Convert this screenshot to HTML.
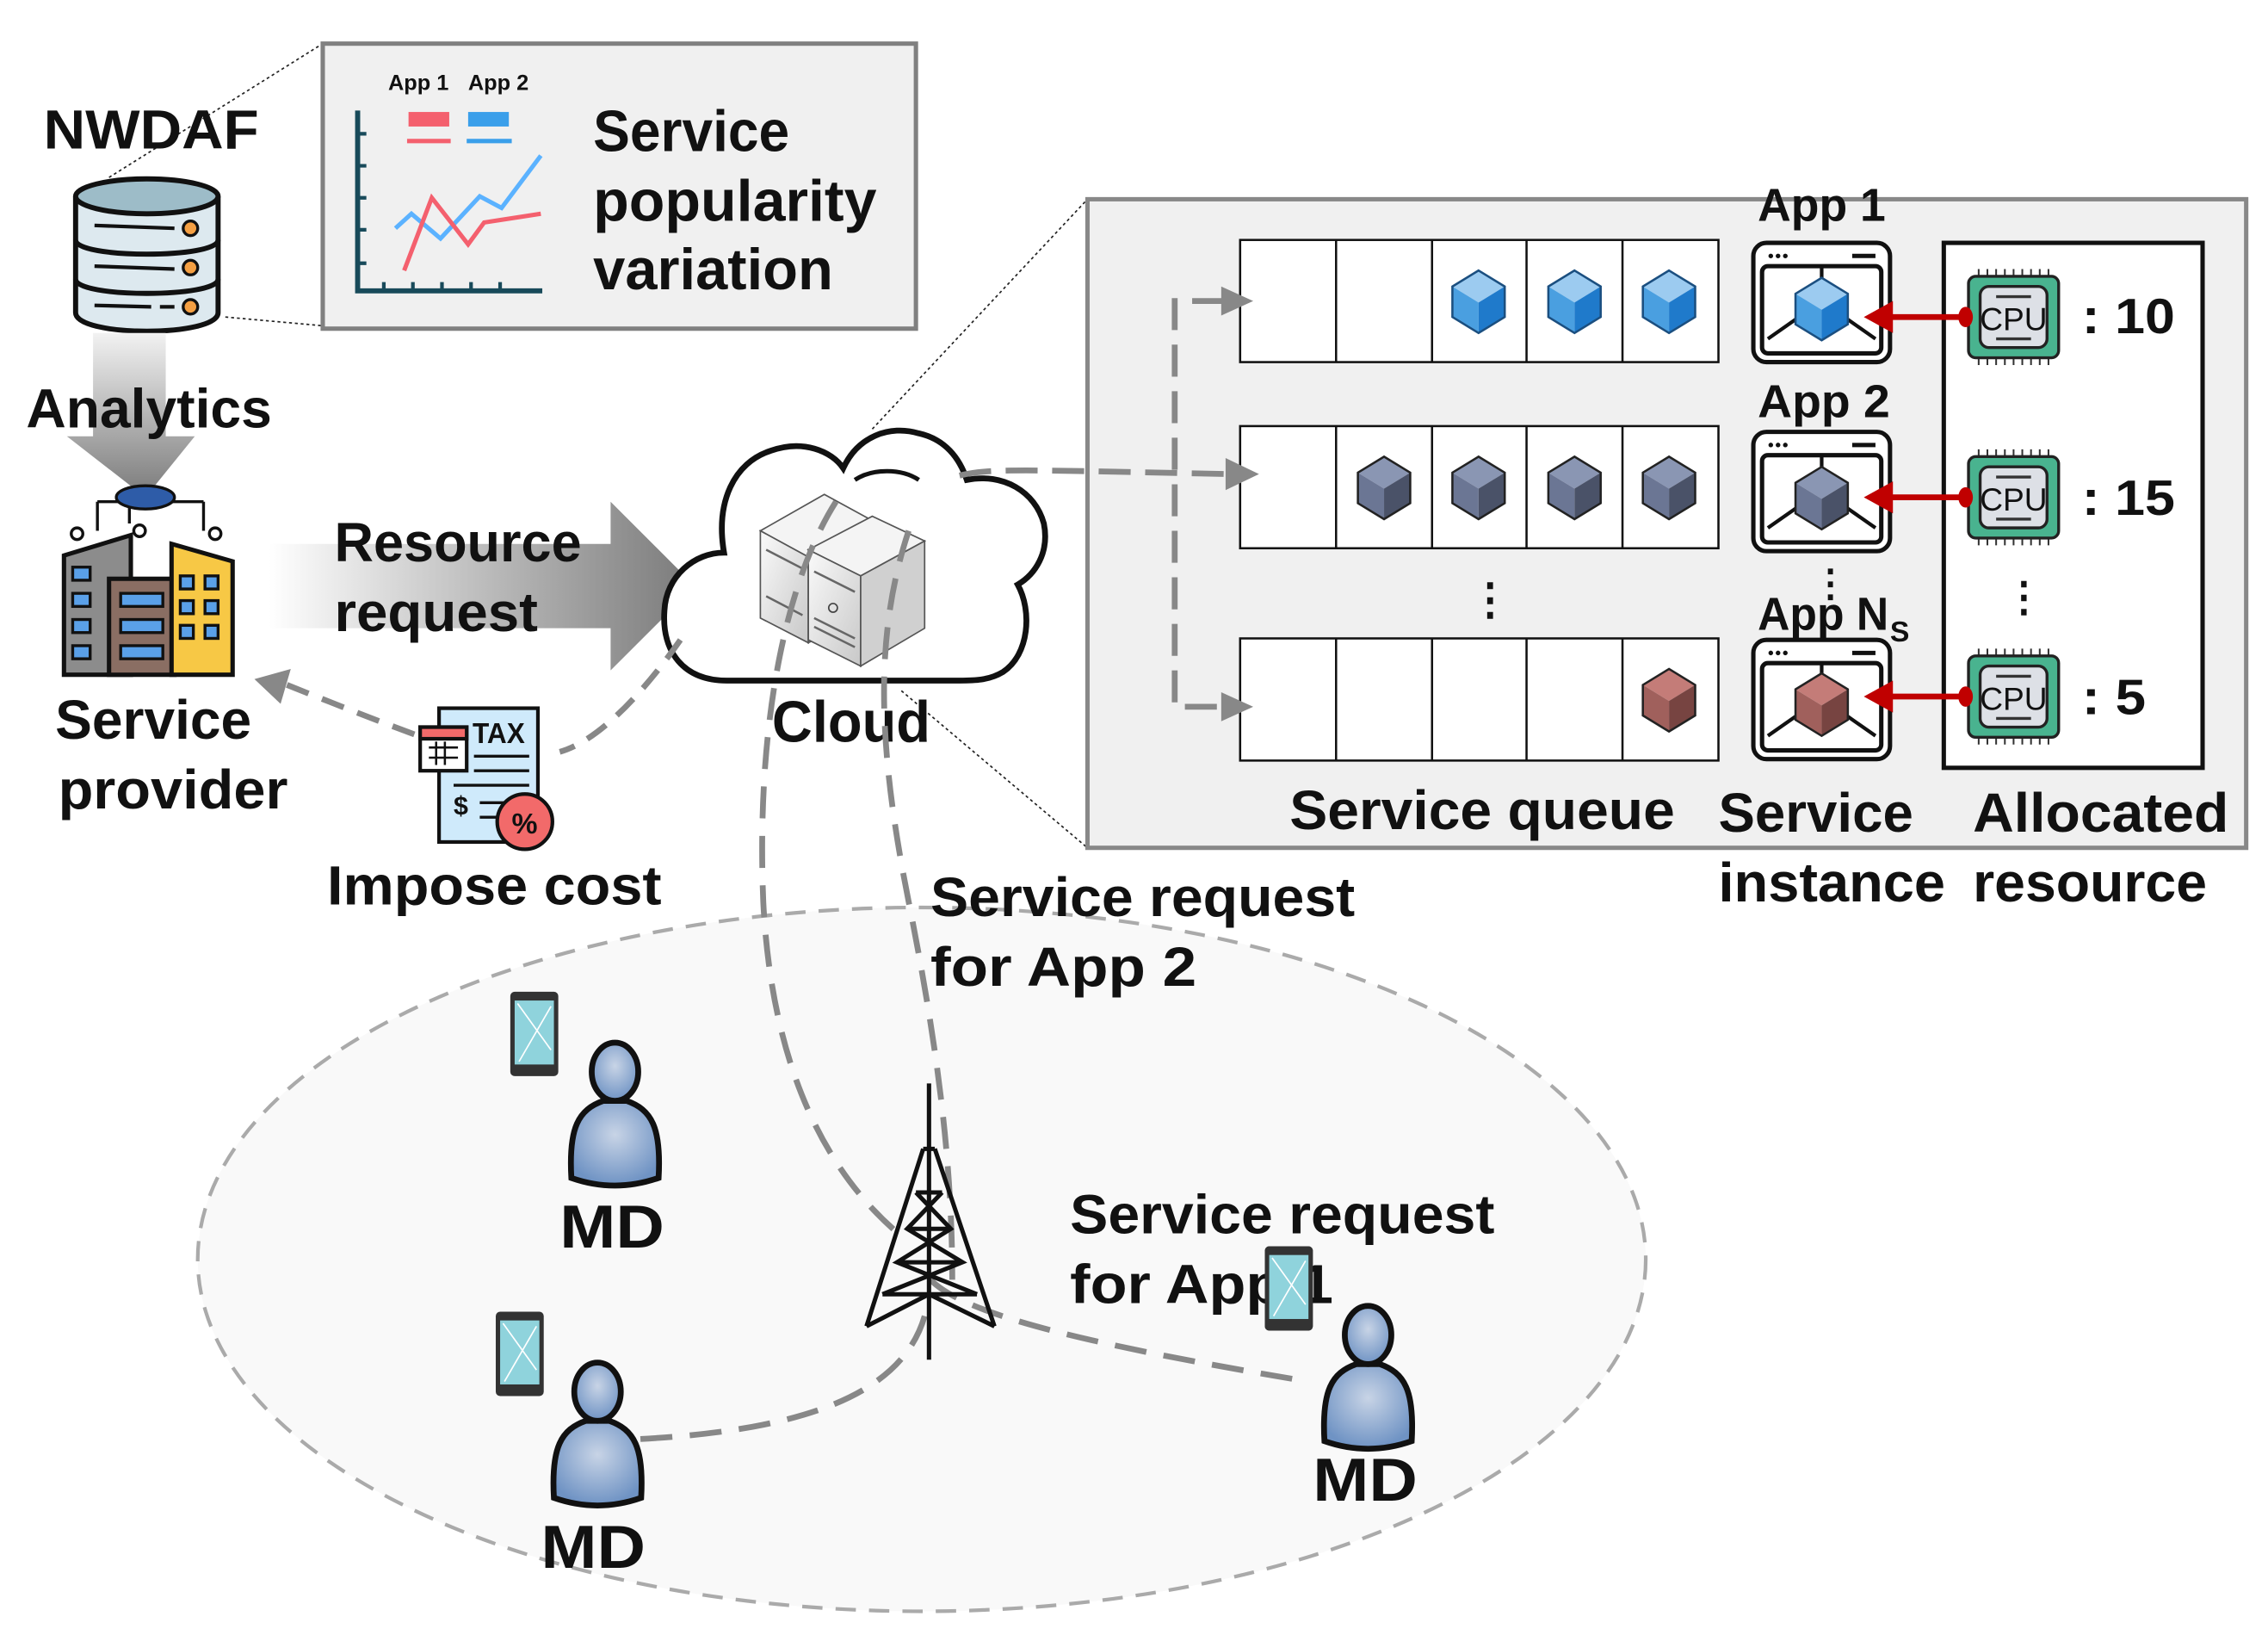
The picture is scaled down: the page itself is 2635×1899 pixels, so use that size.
<!DOCTYPE html>
<html><head><meta charset="utf-8"><style>
html,body{margin:0;padding:0;background:#fff;}
svg{display:block;}
text{font-family:"Liberation Sans",sans-serif;font-weight:bold;fill:#111;}
</style></head><body>
<svg width="2635" height="1899" viewBox="0 0 1560 1124.3" preserveAspectRatio="none" xmlns="http://www.w3.org/2000/svg">
<defs>
<linearGradient id="gd" x1="0" y1="0" x2="0" y2="1"><stop offset="0" stop-color="#f2f2f2"/><stop offset="1" stop-color="#7a7a7a"/></linearGradient>
<linearGradient id="gr" x1="0" y1="0" x2="1" y2="0"><stop offset="0" stop-color="#ffffff"/><stop offset="1" stop-color="#7a7a7a"/></linearGradient>
<radialGradient id="gu" cx="0.5" cy="0.4" r="0.6"><stop offset="0" stop-color="#c8d4e6"/><stop offset="1" stop-color="#6f93c4"/></radialGradient>
<linearGradient id="gs" x1="0" y1="0" x2="1" y2="1"><stop offset="0" stop-color="#fafafa"/><stop offset="1" stop-color="#c8c8c8"/></linearGradient>
<g id="cubeB"><polygon points="0,-21 18,-10 0,1 -18,-10" fill="#9ccbf0"/><polygon points="-18,-10 0,1 0,22 -18,11" fill="#4a9fe0"/><polygon points="18,-10 0,1 0,22 18,11" fill="#1f7acb"/><polygon points="0,-21 18,-10 18,11 0,22 -18,11 -18,-10" fill="none" stroke="#1b4f80" stroke-width="1.5"/></g>
<g id="cubeG"><polygon points="0,-21 18,-10 0,1 -18,-10" fill="#8a96b3"/><polygon points="-18,-10 0,1 0,22 -18,11" fill="#6b7694"/><polygon points="18,-10 0,1 0,22 18,11" fill="#4a5268"/><polygon points="0,-21 18,-10 18,11 0,22 -18,11 -18,-10" fill="none" stroke="#222" stroke-width="1.5"/></g>
<g id="cubeR"><polygon points="0,-21 18,-10 0,1 -18,-10" fill="#c47c78"/><polygon points="-18,-10 0,1 0,22 -18,11" fill="#a0605c"/><polygon points="18,-10 0,1 0,22 18,11" fill="#774441"/><polygon points="0,-21 18,-10 18,11 0,22 -18,11 -18,-10" fill="none" stroke="#222" stroke-width="1.5"/></g>
<g id="inst"><rect x="0" y="0" width="94" height="82" rx="9" fill="#fff" stroke="#111" stroke-width="3"/><rect x="6" y="16" width="82" height="60" rx="4" fill="#fff" stroke="#111" stroke-width="3"/><circle cx="12" cy="9" r="1.6" fill="#111"/><circle cx="17" cy="9" r="1.6" fill="#111"/><circle cx="22" cy="9" r="1.6" fill="#111"/><line x1="68" y1="9" x2="84" y2="9" stroke="#111" stroke-width="3"/><line x1="47" y1="16" x2="47" y2="30" stroke="#111" stroke-width="2.5"/><line x1="10" y1="66" x2="30" y2="52" stroke="#111" stroke-width="2.5"/><line x1="84" y1="66" x2="64" y2="52" stroke="#111" stroke-width="2.5"/></g>
<g id="cpu"><g stroke="#333" stroke-width="1.2"><path d="M-24,-33v6M-18,-33v6M-12,-33v6M-6,-33v6M0,-33v6M6,-33v6M12,-33v6M18,-33v6M24,-33v6M-24,27v6M-18,27v6M-12,27v6M-6,27v6M0,27v6M6,27v6M12,27v6M18,27v6M24,27v6"/></g><rect x="-31" y="-28" width="62" height="56" rx="5" fill="#49b38f" stroke="#222" stroke-width="2"/><rect x="-23" y="-21" width="46" height="42" rx="6" fill="#dde0e6" stroke="#222" stroke-width="2"/><text x="0" y="9" font-size="22" text-anchor="middle" style="font-weight:normal" fill="#333">CPU</text><line x1="-12" y1="-14" x2="12" y2="-14" stroke="#333" stroke-width="2"/><line x1="-12" y1="15" x2="12" y2="15" stroke="#333" stroke-width="2"/></g>
<g id="user"><path d="M-30,45 C-32,10 -25,-2 -8,-8 L8,-8 C25,-2 32,10 30,45 C10,52 -10,52 -30,45Z" fill="url(#gu)" stroke="#111" stroke-width="4"/><ellipse cx="0" cy="-28" rx="16" ry="20" fill="url(#gu)" stroke="#111" stroke-width="4"/></g>
<g id="phone"><rect x="0" y="0" width="33" height="58" rx="3" fill="#333"/><rect x="3" y="6" width="27" height="44" fill="#8fd3dc"/><path d="M5,8 L28,40 M28,10 L6,48" stroke="#fff" stroke-width="1"/></g>
</defs>

<!-- popularity box + dotted lines -->
<line x1="75" y1="122" x2="222" y2="30" stroke="#222" stroke-width="1" stroke-dasharray="2,2"/>
<line x1="155" y1="218" x2="222" y2="224" stroke="#222" stroke-width="1" stroke-dasharray="2,2"/>
<rect x="222" y="30" width="408" height="196" fill="#f0f0f0" stroke="#808080" stroke-width="3"/>
<text x="267" y="62" font-size="15">App 1</text><text x="322" y="62" font-size="15">App 2</text>
<rect x="281" y="77" width="28" height="10" fill="#f4606e"/><line x1="280" y1="97" x2="310" y2="97" stroke="#f4606e" stroke-width="3"/>
<rect x="322" y="77" width="28" height="10" fill="#3a9fea"/><line x1="321" y1="97" x2="352" y2="97" stroke="#3a9fea" stroke-width="3"/>
<path d="M246,76 L246,200 L373,200" fill="none" stroke="#184a5a" stroke-width="3.5"/>
<path d="M246,92h6M246,114h6M246,136h6M246,158h6M246,181h6M264,200v-6M284,200v-6M304,200v-6M324,200v-6M344,200v-6" stroke="#184a5a" stroke-width="2.5"/>
<polyline points="272,157 283,147 303,164 330,135 345,143 372,107" fill="none" stroke="#5bb2ff" stroke-width="3"/>
<polyline points="278,186 297,136 322,168 333,153 372,147" fill="none" stroke="#f4606e" stroke-width="3"/>
<text x="408" y="104" font-size="40" textLength="135" lengthAdjust="spacingAndGlyphs">Service</text>
<text x="408" y="152" font-size="40" textLength="195" lengthAdjust="spacingAndGlyphs">popularity</text>
<text x="408" y="199" font-size="40" textLength="165" lengthAdjust="spacingAndGlyphs">variation</text>

<text x="30" y="102" font-size="38" textLength="148" lengthAdjust="spacingAndGlyphs">NWDAF</text>
<!-- database -->
<g stroke="#111" stroke-width="3.5">
<path d="M52,135 L52,215 C52,232 150,232 150,215 L150,135" fill="#dde9ef"/>
<ellipse cx="101" cy="135" rx="49" ry="12" fill="#9dbcc8"/>
<path d="M52,165 C52,178 150,178 150,165 M52,192 C52,205 150,205 150,192" fill="none"/>
<path d="M65,155 L120,157 M65,183 L120,185 M65,210 L104,211 M110,211 L120,211" fill="none" stroke-width="2.5"/>
<circle cx="131" cy="157" r="5" fill="#f5a043" stroke-width="2"/><circle cx="131" cy="184" r="5" fill="#f5a043" stroke-width="2"/><circle cx="131" cy="211" r="5" fill="#f5a043" stroke-width="2"/>
</g>
<!-- analytics arrow -->
<polygon points="64,229 114,229 114,300 134,300 100,342 46,300 64,300" fill="url(#gd)"/>
<text x="18" y="294" font-size="38" textLength="169" lengthAdjust="spacingAndGlyphs">Analytics</text>
<!-- building -->
<g stroke="#111" stroke-width="3">
<path d="M67,345 L140,345 M89,345 v15 M67,345 v20 M140,345 v20" fill="none" stroke-width="2"/>
<ellipse cx="100" cy="342" rx="20" ry="8" fill="#2e5ca8" stroke-width="2"/>
<circle cx="53" cy="367" r="4" fill="#fff" stroke-width="2"/><circle cx="96" cy="365" r="4" fill="#fff" stroke-width="2"/><circle cx="148" cy="367" r="4" fill="#fff" stroke-width="2"/>
<polygon points="44,382 90,368 90,464 44,464" fill="#8c8c8c"/>
<rect x="75" y="398" width="45" height="66" fill="#8a6e63"/>
<polygon points="118,374 160,386 160,464 118,464" fill="#f7c845"/>
<g fill="#5aa0e8" stroke-width="2"><rect x="50" y="390" width="12" height="9"/><rect x="50" y="408" width="12" height="9"/><rect x="50" y="426" width="12" height="9"/><rect x="50" y="444" width="12" height="9"/><rect x="83" y="408" width="29" height="9"/><rect x="83" y="426" width="29" height="9"/><rect x="83" y="444" width="29" height="9"/><rect x="124" y="396" width="9" height="9"/><rect x="141" y="396" width="9" height="9"/><rect x="124" y="413" width="9" height="9"/><rect x="141" y="413" width="9" height="9"/><rect x="124" y="430" width="9" height="9"/><rect x="141" y="430" width="9" height="9"/></g>
</g>
<text x="38" y="508" font-size="38" textLength="135" lengthAdjust="spacingAndGlyphs">Service</text>
<text x="40" y="556" font-size="38" textLength="158" lengthAdjust="spacingAndGlyphs">provider</text>

<!-- resource request arrow -->
<polygon points="185,374 420,374 420,345 478,403 420,461 420,432 185,432" fill="url(#gr)"/>
<text x="230" y="386" font-size="38" textLength="170" lengthAdjust="spacingAndGlyphs">Resource</text>
<text x="230" y="434" font-size="38" textLength="140" lengthAdjust="spacingAndGlyphs">request</text>

<!-- dotted to detail box -->
<line x1="600" y1="295" x2="748" y2="137" stroke="#222" stroke-width="1" stroke-dasharray="2,2"/>
<line x1="620" y1="475" x2="748" y2="583" stroke="#222" stroke-width="1" stroke-dasharray="2,2"/>

<!-- cloud -->
<path d="M500,468 C470,468 455,448 457,420 C458,396 478,380 498,380 C492,345 505,318 530,310 C552,302 572,310 580,322 C590,300 612,292 632,298 C650,302 660,315 665,330 C690,325 712,338 718,360 C722,380 712,395 700,402 C710,420 708,450 690,462 C680,468 670,468 660,468 Z" fill="#fff" stroke="#111" stroke-width="4"/>
<path d="M588,330 C600,322 620,322 632,330" fill="none" stroke="#111" stroke-width="3"/>
<!-- servers -->
<polygon points="523,365 567,340 600,358 556,383" fill="#f4f4f4" stroke="#555" stroke-width="1"/>
<polygon points="523,365 556,383 556,442 523,425" fill="url(#gs)" stroke="#555" stroke-width="1"/>
<polygon points="556,383 600,358 600,420 556,442" fill="#d8d8d8" stroke="#555" stroke-width="1"/>
<polygon points="556,378 600,355 636,372 592,396" fill="#f4f4f4" stroke="#555" stroke-width="1"/>
<polygon points="556,378 592,396 592,458 556,440" fill="url(#gs)" stroke="#555" stroke-width="1"/>
<polygon points="592,396 636,372 636,432 592,458" fill="#d0d0d0" stroke="#555" stroke-width="1"/>
<path d="M560,393 l28,14 M560,425 l28,14 M560,431 l28,14 M527,378 l25,13 M527,410 l25,13" stroke="#666" stroke-width="1.5"/>
<circle cx="573" cy="418" r="3" fill="none" stroke="#444"/>
<text x="531" y="510" font-size="40" textLength="109" lengthAdjust="spacingAndGlyphs">Cloud</text>

<!-- dashed cost arrow -->
<path d="M468,440 C440,480 410,510 385,517" fill="none" stroke="#888" stroke-width="4" stroke-dasharray="16,10"/>
<path d="M285,505 C250,492 220,480 195,470" fill="none" stroke="#888" stroke-width="4" stroke-dasharray="16,10"/>
<polygon points="175,467 200,460 193,484" fill="#888"/>
<!-- tax icon -->
<g stroke="#111" stroke-width="2.5">
<rect x="302" y="487" width="68" height="92" fill="#cfeafb"/>
<rect x="289" y="500" width="32" height="30" fill="#fff"/><rect x="289" y="500" width="32" height="8" fill="#f26a6a"/>
<path d="M295,514h20M295,521h20M300,510v16M306,510v16" stroke-width="1.5"/>
<path d="M326,520h38M326,530h38M312,540h52M330,552h20M330,562h20" stroke-width="2"/>
<circle cx="361" cy="565" r="19" fill="#f26a6a"/>
</g>
<text x="325" y="511" font-size="20" textLength="36" lengthAdjust="spacingAndGlyphs">TAX</text>
<text x="312" y="560" font-size="18">$</text>
<text x="352" y="573" font-size="20">%</text>
<text x="225" y="622" font-size="38" textLength="230" lengthAdjust="spacingAndGlyphs">Impose cost</text>

<!-- ellipse -->
<ellipse cx="634" cy="866" rx="498" ry="242" fill="#f9f9f9" stroke="#aaa" stroke-width="2.5" stroke-dasharray="14,9"/>

<!-- big gray detail box -->
<rect x="748" y="137" width="797" height="446" fill="#f0f0f0" stroke="#888" stroke-width="3"/>
<g fill="#fff" stroke="#111" stroke-width="1.5">
<rect x="853" y="165" width="329" height="84"/><rect x="853" y="293" width="329" height="84"/><rect x="853" y="439" width="329" height="84"/>
</g>
<path d="M919,165v84M985,165v84M1050,165v84M1116,165v84M919,293v84M985,293v84M1050,293v84M1116,293v84M919,439v84M985,439v84M1050,439v84M1116,439v84" stroke="#111" stroke-width="1.5"/>
<use href="#cubeB" x="1017" y="207"/><use href="#cubeB" x="1083" y="207"/><use href="#cubeB" x="1148" y="207"/>
<use href="#cubeG" x="952" y="335"/><use href="#cubeG" x="1017" y="335"/><use href="#cubeG" x="1083" y="335"/><use href="#cubeG" x="1148" y="335"/>
<use href="#cubeR" x="1148" y="481"/>
<text x="1010" y="422" font-size="30">⋮</text>

<!-- dashed connectors into queues -->
<path d="M842,207 L808,207 L808,486 L842,486" fill="none" stroke="#888" stroke-width="4" stroke-dasharray="22,10"/>
<polygon points="840,197 862,207 840,217" fill="#888"/><polygon points="840,476 862,486 840,496" fill="#888"/>
<path d="M660,327 C680,322 700,323 845,326" fill="none" stroke="#888" stroke-width="4" stroke-dasharray="22,10"/>
<polygon points="843,315 866,326 843,337" fill="#888"/>

<!-- instances -->
<use href="#inst" x="1206" y="167"/><use href="#inst" x="1206" y="297"/><use href="#inst" x="1206" y="440"/>
<use href="#cubeB" x="1253" y="212"/><use href="#cubeG" x="1253" y="342"/><use href="#cubeR" x="1253" y="484"/>
<text x="1209" y="152" font-size="32" textLength="88" lengthAdjust="spacingAndGlyphs">App 1</text>
<text x="1209" y="287" font-size="32" textLength="91" lengthAdjust="spacingAndGlyphs">App 2</text>
<text x="1209" y="433" font-size="32" textLength="90" lengthAdjust="spacingAndGlyphs">App N</text><text x="1300" y="441" font-size="20">S</text>
<text x="1246" y="410" font-size="26">⋮</text>

<!-- allocated resource -->
<rect x="1337" y="167" width="178" height="361" fill="#fff" stroke="#111" stroke-width="3"/>
<use href="#cpu" x="1385" y="218"/><use href="#cpu" x="1385" y="342"/><use href="#cpu" x="1385" y="479"/>
<g stroke="#c00000" stroke-width="4"><line x1="1300" y1="218" x2="1352" y2="218"/><line x1="1300" y1="342" x2="1352" y2="342"/><line x1="1300" y1="479" x2="1352" y2="479"/></g>
<g fill="#c00000"><polygon points="1282,218 1302,207 1302,229"/><polygon points="1282,342 1302,331 1302,353"/><polygon points="1282,479 1302,468 1302,490"/><ellipse cx="1352" cy="218" rx="5" ry="7"/><ellipse cx="1352" cy="342" rx="5" ry="7"/><ellipse cx="1352" cy="479" rx="5" ry="7"/></g>
<text x="1432" y="229" font-size="34" textLength="64" lengthAdjust="spacingAndGlyphs">: 10</text>
<text x="1432" y="354" font-size="34" textLength="64" lengthAdjust="spacingAndGlyphs">: 15</text>
<text x="1432" y="491" font-size="34" textLength="44" lengthAdjust="spacingAndGlyphs">: 5</text>
<text x="1378" y="420" font-size="28">⋮</text>

<text x="887" y="570" font-size="38" textLength="265" lengthAdjust="spacingAndGlyphs">Service queue</text>
<text x="1182" y="572" font-size="38" textLength="134" lengthAdjust="spacingAndGlyphs">Service</text>
<text x="1182" y="620" font-size="38" textLength="156" lengthAdjust="spacingAndGlyphs">instance</text>
<text x="1357" y="572" font-size="38" textLength="176" lengthAdjust="spacingAndGlyphs">Allocated</text>
<text x="1357" y="620" font-size="38" textLength="161" lengthAdjust="spacingAndGlyphs">resource</text>

<!-- dashed request lines -->
<path d="M575,345 C540,400 520,500 525,620 C530,720 560,800 620,850" fill="none" stroke="#888" stroke-width="4" stroke-dasharray="22,12"/>
<path d="M625,365 C600,440 605,520 625,620 C645,720 655,800 655,880" fill="none" stroke="#888" stroke-width="4" stroke-dasharray="22,12"/>
<path d="M640,880 C660,900 720,920 900,950" fill="none" stroke="#888" stroke-width="4" stroke-dasharray="22,12"/>
<path d="M636,905 C620,960 550,985 430,990" fill="none" stroke="#888" stroke-width="4" stroke-dasharray="22,12"/>

<!-- tower -->
<g stroke="#111" stroke-width="3" fill="none">
<line x1="639" y1="745" x2="639" y2="935"/>
<path d="M635,790 L596,912 M643,790 L684,912 M635,790 L643,790"/>
<path d="M630,820 L648,820 M624,845 L654,845 M617,868 L662,868 M607,890 L672,890 M630,820 L654,845 L617,868 L672,890 M648,820 L624,845 L662,868 L607,890 M596,912 L639,890 L684,912"/>
</g>

<!-- users -->
<use href="#phone" x="351" y="682"/><use href="#user" x="423" y="765"/>
<use href="#phone" x="341" y="902"/><use href="#user" x="411" y="985"/>
<use href="#phone" x="870" y="857"/><use href="#user" x="941" y="946"/>
<text x="385" y="858" font-size="42" textLength="72" lengthAdjust="spacingAndGlyphs">MD</text>
<text x="372" y="1078" font-size="42" textLength="72" lengthAdjust="spacingAndGlyphs">MD</text>
<text x="903" y="1032" font-size="42" textLength="72" lengthAdjust="spacingAndGlyphs">MD</text>

<text x="640" y="630" font-size="38" textLength="292" lengthAdjust="spacingAndGlyphs">Service request</text>
<text x="640" y="678" font-size="38" textLength="183" lengthAdjust="spacingAndGlyphs">for App 2</text>
<text x="736" y="848" font-size="38" textLength="292" lengthAdjust="spacingAndGlyphs">Service request</text>
<text x="736" y="896" font-size="38" textLength="181" lengthAdjust="spacingAndGlyphs">for App 1</text>
<use href="#phone" x="870" y="857"/>
</svg>
</body></html>
